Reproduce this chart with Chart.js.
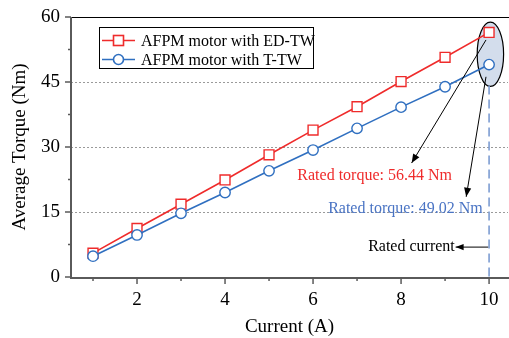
<!DOCTYPE html>
<html><head><meta charset="utf-8">
<script src="https://cdn.jsdelivr.net/npm/chart.js@4/dist/chart.umd.min.js"></script>
<style>html,body{margin:0;padding:0;background:#fff}#wrap{width:509px;height:338px}</style>
</head><body><div id="wrap"><canvas id="c" width="509" height="338"></canvas></div>
<script>
const currents = [1, 2, 3, 4, 5, 6, 7, 8, 9, 10];
const torqueEDTW = [5.5, 11.2, 16.8, 22.4, 28.2, 33.9, 39.3, 45.1, 50.7, 56.44];
const torqueTTW = [4.8, 9.7, 14.7, 19.5, 24.5, 29.3, 34.3, 39.2, 43.9, 49.02];
const xTickLabels = [2, 4, 6, 8, 10];
const xMinorTicks = [1, 3, 5, 7, 9];
const yTickLabels = [0, 15, 30, 45, 60];
const yMinorTicks = [7.5, 22.5, 37.5, 52.5];
const seriesNames = ['AFPM motor with ED-TW', 'AFPM motor with T-TW'];
const ratedTexts = ['Rated torque: 56.44 Nm', 'Rated torque: 49.02 Nm', 'Rated current'];

const RED = '#ef2b2b', BLUE = '#2f6fc0';
const FONT = "'Liberation Serif', 'Times New Roman', serif";

function arrow(ctx, x1, y1, x2, y2, head) {
  ctx.beginPath(); ctx.moveTo(x1, y1); ctx.lineTo(x2, y2); ctx.stroke();
  const a = Math.atan2(y2 - y1, x2 - x1);
  ctx.beginPath();
  ctx.moveTo(x2, y2);
  ctx.lineTo(x2 - head * Math.cos(a) + head * 0.4 * Math.sin(a), y2 - head * Math.sin(a) - head * 0.4 * Math.cos(a));
  ctx.lineTo(x2 - head * Math.cos(a) - head * 0.4 * Math.sin(a), y2 - head * Math.sin(a) + head * 0.4 * Math.cos(a));
  ctx.closePath(); ctx.fill();
}

const deco = {
  id: 'deco',
  beforeDatasetsDraw(chart) {
    const {ctx, chartArea: ca, scales: {x, y}} = chart;
    ctx.save();
    ctx.strokeStyle = '#9a9a9a'; ctx.lineWidth = 1; ctx.setLineDash([2, 2]);
    [15, 30, 45].forEach(v => {
      const py = Math.round(y.getPixelForValue(v)) + 0.5;
      ctx.beginPath(); ctx.moveTo(ca.left, py); ctx.lineTo(ca.right, py); ctx.stroke();
    });
    ctx.setLineDash([]);
    const cx = x.getPixelForValue(10.03), cy = y.getPixelForValue(51.4);
    const rx = Math.abs(x.getPixelForValue(10.33) - cx), ry = Math.abs(y.getPixelForValue(58.8) - cy);
    ctx.fillStyle = '#d3ddec'; ctx.strokeStyle = '#000'; ctx.lineWidth = 1.2;
    ctx.beginPath(); ctx.ellipse(cx, cy, rx, ry, 0, 0, Math.PI * 2); ctx.fill(); ctx.stroke();
    ctx.strokeStyle = '#7d9dd2'; ctx.lineWidth = 1.6; ctx.setLineDash([9, 5]);
    const px = x.getPixelForValue(10);
    ctx.beginPath(); ctx.moveTo(px, y.getPixelForValue(44.2)); ctx.lineTo(px, y.getPixelForValue(0)); ctx.stroke();
    ctx.setLineDash([]);
    ctx.restore();
  },
  afterDraw(chart) {
    const {ctx, chartArea: ca, scales: {x, y}} = chart;
    ctx.save();
    ctx.strokeStyle = '#000'; ctx.lineWidth = 1;
    ctx.beginPath(); ctx.moveTo(ca.left, ca.top + 0.5); ctx.lineTo(chart.width, ca.top + 0.5); ctx.stroke();
    ctx.strokeStyle = '#5a5a5a'; ctx.lineWidth = 2;
    ctx.beginPath(); ctx.moveTo(ca.left, ca.top); ctx.lineTo(ca.left, ca.bottom + 1); ctx.lineTo(chart.width, ca.bottom + 1); ctx.stroke();
    ctx.lineWidth = 1.5;
    yTickLabels.forEach(v => { const py = y.getPixelForValue(v); ctx.beginPath(); ctx.moveTo(ca.left - 6, py); ctx.lineTo(ca.left, py); ctx.stroke(); });
    yMinorTicks.forEach(v => { const py = y.getPixelForValue(v); ctx.beginPath(); ctx.moveTo(ca.left - 3, py); ctx.lineTo(ca.left, py); ctx.stroke(); });
    xTickLabels.forEach(v => { const p = x.getPixelForValue(v); ctx.beginPath(); ctx.moveTo(p, ca.bottom); ctx.lineTo(p, ca.bottom + 7); ctx.stroke(); });
    xMinorTicks.forEach(v => { const p = x.getPixelForValue(v); ctx.beginPath(); ctx.moveTo(p, ca.bottom); ctx.lineTo(p, ca.bottom + 4); ctx.stroke(); });
    ctx.fillStyle = '#000'; ctx.font = '19px ' + FONT; ctx.textAlign = 'center'; ctx.textBaseline = 'middle';
    xTickLabels.forEach(v => ctx.fillText(String(v), x.getPixelForValue(v), ca.bottom + 23));
    ctx.strokeStyle = '#000'; ctx.fillStyle = '#000'; ctx.lineWidth = 1;
    arrow(ctx, x.getPixelForValue(9.93), y.getPixelForValue(54.7), x.getPixelForValue(8.24), y.getPixelForValue(26.3), 9);
    arrow(ctx, x.getPixelForValue(9.93), y.getPixelForValue(46.2), x.getPixelForValue(9.48), y.getPixelForValue(18.5), 9);
    arrow(ctx, x.getPixelForValue(9.98), y.getPixelForValue(6.9), x.getPixelForValue(9.24), y.getPixelForValue(6.9), 8);
    ctx.font = '16px ' + FONT; ctx.textBaseline = 'middle';
    ctx.textAlign = 'center';
    ctx.fillStyle = RED; ctx.fillText(ratedTexts[0], x.getPixelForValue(7.40), y.getPixelForValue(23.3));
    ctx.fillStyle = '#4a74c4'; ctx.fillText(ratedTexts[1], x.getPixelForValue(8.10), y.getPixelForValue(15.7));
    ctx.textAlign = 'right'; ctx.fillStyle = '#000';
    ctx.fillText(ratedTexts[2], x.getPixelForValue(9.22), y.getPixelForValue(6.9));
    const lx = 99.5, ly = 27.5, lw = 214, lh = 41;
    ctx.fillStyle = '#fff'; ctx.fillRect(lx, ly, lw, lh);
    ctx.strokeStyle = '#000'; ctx.lineWidth = 1; ctx.strokeRect(lx, ly, lw, lh);
    chart.data.datasets.forEach((ds, i) => {
      const ry = 40.5 + i * 19;
      ctx.strokeStyle = ds.borderColor; ctx.lineWidth = 1.6;
      ctx.beginPath(); ctx.moveTo(102, ry); ctx.lineTo(135, ry); ctx.stroke();
      ctx.fillStyle = '#fff';
      if (ds.pointStyle === 'rect') { ctx.fillRect(113.5, ry - 5, 10, 10); ctx.strokeRect(113.5, ry - 5, 10, 10); }
      else { ctx.beginPath(); ctx.arc(118.5, ry, 5, 0, Math.PI * 2); ctx.fill(); ctx.stroke(); }
      ctx.fillStyle = '#000'; ctx.textAlign = 'left'; ctx.font = '16px ' + FONT;
      ctx.fillText(ds.label, 141, ry + 1);
    });
    ctx.restore();
  }
};

new Chart(document.getElementById('c'), {
  type: 'line',
  data: {
    labels: currents,
    datasets: [
      { label: seriesNames[0], data: currents.map((c, i) => ({x: c, y: torqueEDTW[i]})), borderColor: RED, backgroundColor: '#fff',
        pointStyle: 'rect', pointRadius: 7, pointBorderWidth: 1.4, borderWidth: 1.6, order: 2, tension: 0 },
      { label: seriesNames[1], data: currents.map((c, i) => ({x: c, y: torqueTTW[i]})), borderColor: BLUE, backgroundColor: '#fff',
        pointStyle: 'circle', pointRadius: 5.2, pointBorderWidth: 1.4, borderWidth: 1.6, order: 1, tension: 0 }
    ]
  },
  options: {
    responsive: false, animation: false, devicePixelRatio: 1,
    layout: { autoPadding: false, padding: { top: 17, right: 1, left: 0, bottom: 0 } },
    plugins: { legend: { display: false }, tooltip: { enabled: false } },
    scales: {
      x: {
        type: 'linear', min: 0.5, max: 10.43,
        afterFit: s => { s.height = 61; s.paddingLeft = 0; s.paddingRight = 0; },
        afterBuildTicks: s => { s.ticks = xTickLabels.map(v => ({value: v})); },
        grid: { display: false, drawTicks: false }, border: { display: false },
        ticks: { display: false },
        title: { display: true, text: 'Current (A)', color: '#000', font: { family: FONT, size: 19 }, padding: { top: 0, bottom: 0 } }
      },
      y: {
        min: 0, max: 60,
        afterFit: s => { s.width = 71; s.paddingTop = 0; s.paddingBottom = 0; },
        afterBuildTicks: s => { s.ticks = yTickLabels.map(v => ({value: v})); },
        grid: { display: false, drawTicks: false }, border: { display: false },
        ticks: { padding: 11, color: '#000', font: { family: FONT, size: 19 } },
        title: { display: true, text: 'Average Torque (Nm)', color: '#000', font: { family: FONT, size: 19 }, padding: { top: 9, bottom: 0 } }
      }
    }
  },
  plugins: [deco]
});
</script></body></html>
